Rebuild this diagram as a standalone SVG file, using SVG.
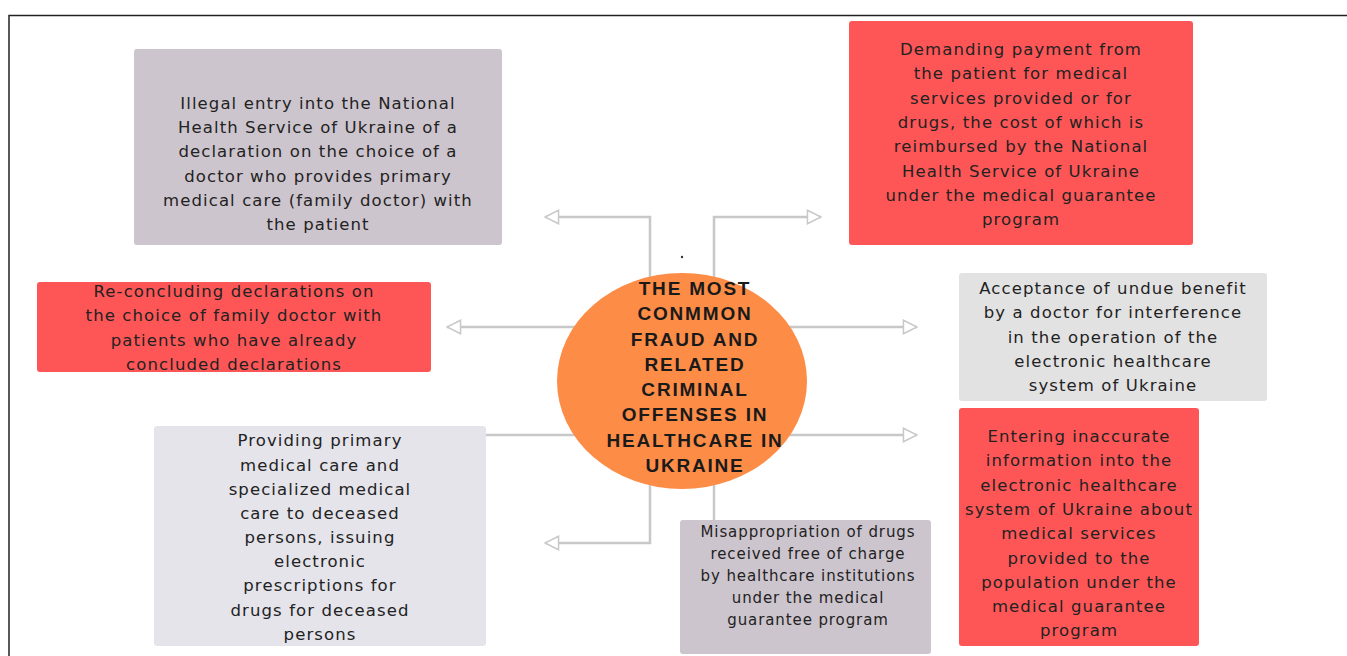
<svg xmlns="http://www.w3.org/2000/svg" width="1347" height="656" viewBox="0 0 1347 656">
<style>
.box{stroke:none}
.red{fill:#fe5656}
.mauve{fill:#cdc5cd}
.grey{fill:#e2e2e2}
.lgrey{fill:#e4e4ea}
.t{font-family:"DejaVu Sans","Liberation Sans",sans-serif;font-size:16.5px;fill:#222;text-anchor:middle;letter-spacing:1.1px}
.ts{font-family:"DejaVu Sans","Liberation Sans",sans-serif;font-size:15px;fill:#222;text-anchor:middle;letter-spacing:0.9px}
.title{font-family:"Liberation Sans",Arial,sans-serif;font-size:19px;font-weight:bold;fill:#1a1a1a;text-anchor:middle;letter-spacing:1.8px}
.c{fill:none;stroke:#c8c8c8;stroke-width:2.5}
</style>
<defs>
<marker id="ah" viewBox="0 0 12 12" refX="11" refY="6" markerWidth="6.5" markerHeight="6.5" orient="auto" markerUnits="strokeWidth">
<path d="M1,1 L11,6 L1,11 Z" fill="#fff" stroke="#c8c8c8" stroke-width="1.1"/>
</marker>
</defs>
<rect x="0" y="0" width="1347" height="656" fill="#fff"/>
<path d="M9,656 V15.5 H1347" fill="none" stroke="#222" stroke-width="1.5"/>
<g id="connectors">
<path class="c" d="M650,300 V217 H545" marker-end="url(#ah)"/>
<path class="c" d="M714,300 V217 H821" marker-end="url(#ah)"/>
<path class="c" d="M600,327 H447" marker-end="url(#ah)"/>
<path class="c" d="M760,327 H917" marker-end="url(#ah)"/>
<path class="c" d="M760,435 H917" marker-end="url(#ah)"/>
<path class="c" d="M600,435 H486"/>
<path class="c" d="M650,460 V543 H545" marker-end="url(#ah)"/>
<path class="c" d="M714,460 V520"/>
</g>
<circle cx="682" cy="257" r="1.2" fill="#333"/>
<g id="center">
<ellipse cx="682" cy="381" rx="125" ry="108" fill="#fd8c47"/>
<text class="title" x="695" y="295">THE MOST</text>
<text class="title" x="695" y="320">CONMMON</text>
<text class="title" x="695" y="346">FRAUD AND</text>
<text class="title" x="695" y="371">RELATED</text>
<text class="title" x="695" y="396">CRIMINAL</text>
<text class="title" x="695" y="421">OFFENSES IN</text>
<text class="title" x="695" y="447">HEALTHCARE IN</text>
<text class="title" x="695" y="472">UKRAINE</text>
</g>
<g id="node-illegal-entry">
<rect class="box mauve" x="134" y="49" width="368" height="196" rx="3"/>
<text class="t" x="318" y="109">Illegal entry into the National</text>
<text class="t" x="318" y="133">Health Service of Ukraine of a</text>
<text class="t" x="318" y="157">declaration on the choice of a</text>
<text class="t" x="318" y="182">doctor who provides primary</text>
<text class="t" x="318" y="206">medical care (family doctor) with</text>
<text class="t" x="318" y="230">the patient</text>
</g>
<g id="node-demanding-payment">
<rect class="box red" x="849" y="21" width="344" height="224" rx="3"/>
<text class="t" x="1021" y="55">Demanding payment from</text>
<text class="t" x="1021" y="79">the patient for medical</text>
<text class="t" x="1021" y="104">services provided or for</text>
<text class="t" x="1021" y="128">drugs, the cost of which is</text>
<text class="t" x="1021" y="152">reimbursed by the National</text>
<text class="t" x="1021" y="177">Health Service of Ukraine</text>
<text class="t" x="1021" y="201">under the medical guarantee</text>
<text class="t" x="1021" y="225">program</text>
</g>
<g id="node-reconcluding">
<rect class="box red" x="37" y="282" width="394" height="90" rx="3"/>
<text class="t" x="234" y="297">Re-concluding declarations on</text>
<text class="t" x="234" y="321">the choice of family doctor with</text>
<text class="t" x="234" y="346">patients who have already</text>
<text class="t" x="234" y="370">concluded declarations</text>
</g>
<g id="node-undue-benefit">
<rect class="box grey" x="959" y="273" width="308" height="128" rx="3"/>
<text class="t" x="1113" y="294">Acceptance of undue benefit</text>
<text class="t" x="1113" y="318">by a doctor for interference</text>
<text class="t" x="1113" y="343">in the operation of the</text>
<text class="t" x="1113" y="367">electronic healthcare</text>
<text class="t" x="1113" y="391">system of Ukraine</text>
</g>
<g id="node-deceased">
<rect class="box lgrey" x="154" y="426" width="332" height="220" rx="3"/>
<text class="t" x="320" y="446">Providing primary</text>
<text class="t" x="320" y="471">medical care and</text>
<text class="t" x="320" y="495">specialized medical</text>
<text class="t" x="320" y="519">care to deceased</text>
<text class="t" x="320" y="543">persons, issuing</text>
<text class="t" x="320" y="567">electronic</text>
<text class="t" x="320" y="591">prescriptions for</text>
<text class="t" x="320" y="616">drugs for deceased</text>
<text class="t" x="320" y="640">persons</text>
</g>
<g id="node-misappropriation">
<rect class="box mauve" x="680" y="520" width="251" height="134" rx="3"/>
<text class="ts" x="808" y="537">Misappropriation of drugs</text>
<text class="ts" x="808" y="559">received free of charge</text>
<text class="ts" x="808" y="581">by healthcare institutions</text>
<text class="ts" x="808" y="603">under the medical</text>
<text class="ts" x="808" y="625">guarantee program</text>
</g>
<g id="node-inaccurate-info">
<rect class="box red" x="959" y="408" width="240" height="238" rx="3"/>
<text class="t" x="1079" y="442">Entering inaccurate</text>
<text class="t" x="1079" y="466">information into the</text>
<text class="t" x="1079" y="491">electronic healthcare</text>
<text class="t" x="1079" y="515">system of Ukraine about</text>
<text class="t" x="1079" y="539">medical services</text>
<text class="t" x="1079" y="564">provided to the</text>
<text class="t" x="1079" y="588">population under the</text>
<text class="t" x="1079" y="612">medical guarantee</text>
<text class="t" x="1079" y="636">program</text>
</g>
</svg>
